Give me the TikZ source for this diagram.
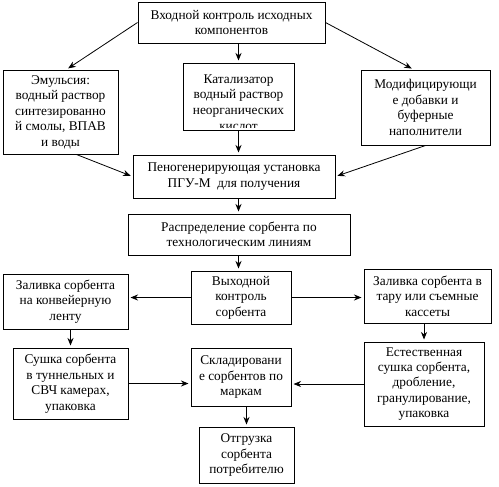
\documentclass[tikz,border=0pt]{standalone}
\usepackage{fontspec}
\setmainfont{Liberation Serif}
\usetikzlibrary{arrows.meta,calc}
\tikzset{
  >={Stealth[length=2mm,width=1.6mm]},
  % blocks
  blk/.style={draw=black,line width=0.75pt,fill=white,align=center,inner sep=2pt,
              font=\fontsize{10}{11.6}\selectfont},
  bare/.style={align=center,inner sep=2pt,font=\fontsize{10}{11.8}\selectfont},
  sz/.style 2 args={minimum width=#1*0.75pt,minimum height=#2*0.75pt},
  % arrows
  pil/.style={->,draw=black,line width=0.6pt,shorten >=1.5pt},
}
\begin{document}
\begin{tikzpicture}[x=0.75pt,y=-0.75pt]
  \useasboundingbox (0,0) rectangle (499,486);
  \node[blk,sz={187}{41}] (inctl) at (231.5,22.5)
    {Входной контроль исходных\\компонентов};
  \node[blk,sz={115}{84}] (emul) at (60.5,112)
    {Эмульсия:\\водный раствор\\синтезированно\\й смолы, ВПАВ\\и воды};
  \node[blk,sz={111}{67}] (cat) at (238.5,96.5) {};
  % text runs out of the box, as in the original
  \begin{scope}
    \clip ($(cat.south west)+(0,-3)$) rectangle (cat.north east);
    \node[bare,anchor=north] (cattxt) at ($(cat.north)+(0,9)$)
      {Катализатор\\водный раствор\\неорганических\\кислот};
  \end{scope}
  \node[blk,sz={129}{75}] (modf) at (425.5,107.5)
    {Модифицирующи\\е добавки и\\буферные\\наполнители};
  \node[blk,sz={202}{43}] (pgu) at (234,176.5)
    {Пеногенерирующая установка\\ПГУ-М\ \ для получения};
  \node[blk,sz={222}{41}] (distr) at (239,234.5)
    {Распределение сорбента по\\технологическим линиям};
  \node[blk,sz={100}{53}] (outctl) at (241,297.5)
    {Выходной\\контроль\\сорбента};
  \node[blk,sz={125}{55}] (fillL) at (65.5,301.5)
    {Заливка сорбента\\на конвейерную\\ленту};
  \node[blk,sz={127}{54}] (fillR) at (427.5,296)
    {Заливка сорбента в\\тару или съемные\\кассеты};
  \node[blk,sz={115}{71}] (dryL) at (70.5,383.5)
    {Сушка сорбента\\в туннельных и\\СВЧ камерах,\\упаковка};
  \node[blk,sz={100}{58}] (store) at (241,377)
    {Складировани\\е сорбентов по\\маркам};
  \node[blk,sz={120}{84}] (dryN) at (424,384)
    {Естественная\\сушка сорбента,\\дробление,\\гранулирование,\\упаковка};
  \node[blk,sz={95}{56}] (ship) at (246.5,455)
    {Отгрузка\\сорбента\\потребителю};

  \draw[pil] (inctl.west) -- ($(emul.north)+(6,0)$);
  \draw[pil] (inctl.east) -- ($(modf.north)+(-12,0)$);
  \draw[pil] (cat.north |- inctl.south) -- (cat.north);
  \draw[pil] (cat.south) -- (cat.south |- pgu.north);
  \draw[pil] ($(emul.south)+(16,0)$) -- (pgu.west);
  \draw[pil] (modf.south) -- (pgu.east);
  \draw[pil] (cat.south |- pgu.south) -- (cat.south |- distr.north);
  \draw[pil] (cat.south |- distr.south) -- (cat.south |- outctl.north);
  \draw[pil] (outctl.west) -- (outctl.west -| fillL.east);
  \draw[pil] (outctl.east) -- (outctl.east -| fillR.west);
  \draw[pil] (dryL.north |- fillL.south) -- (dryL.north);
  \draw[pil] (dryN.north |- fillR.south) -- (dryN.north);
  \draw[pil] (dryL.east) -- (dryL.east -| store.west);
  \draw[pil] (dryN.west) -- (dryN.west -| store.east);
  \draw[pil] (ship.north |- store.south) -- (ship.north);
\end{tikzpicture}
\end{document}
